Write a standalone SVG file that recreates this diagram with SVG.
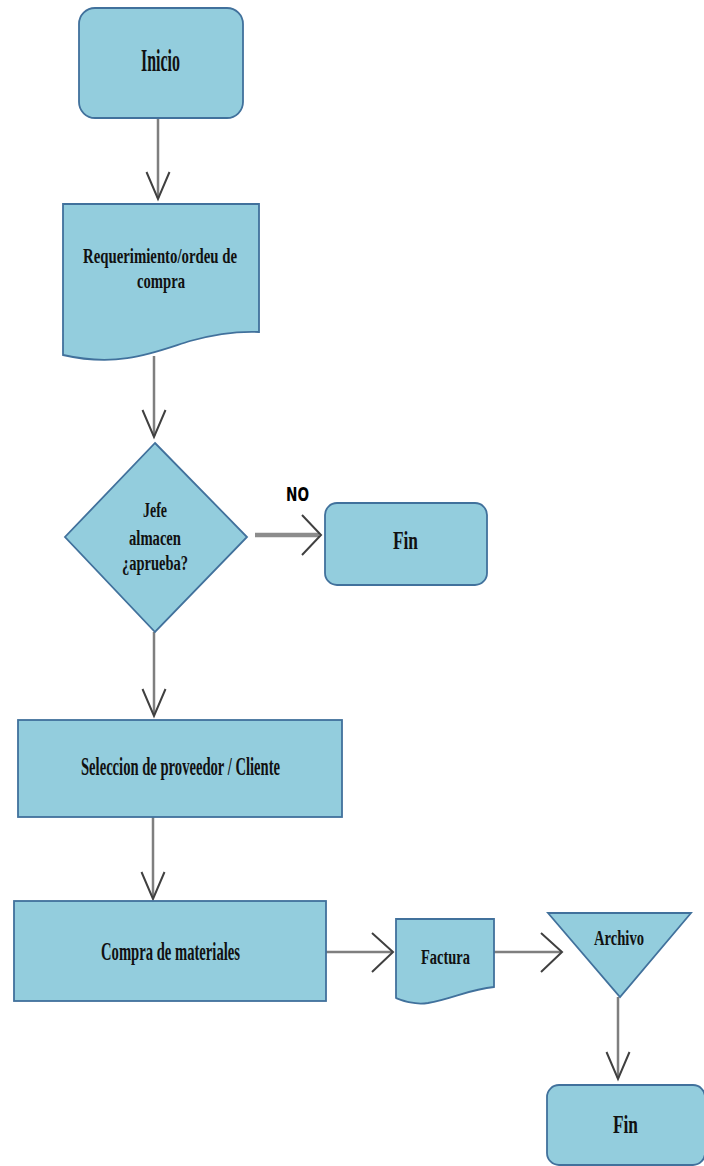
<svg xmlns="http://www.w3.org/2000/svg" width="704" height="1166" viewBox="0 0 704 1166">
<style>
.shape{fill:#93CDDD;stroke:#41719C;stroke-width:1.8}
.line{fill:none;stroke:#7F7F7F;stroke-width:2.5}
.thick{fill:none;stroke:#8C8C8C;stroke-width:4.5}
.head{fill:none;stroke:#404040;stroke-width:2;stroke-linejoin:miter}
.t{font-family:"Liberation Serif","Times New Roman",serif;font-weight:bold;fill:#111}
.no{font-family:"DejaVu Sans","Liberation Sans",sans-serif;font-weight:bold;fill:#000}
</style>
<rect width="704" height="1166" fill="#FFFFFF"/>
<g id="connectors">
  <line class="line" x1="158" y1="118" x2="158" y2="198"/>
  <path class="head" d="M146.5,172 L158,199 L169.5,172"/>
  <line class="line" x1="154" y1="356" x2="154" y2="436"/>
  <path class="head" d="M142.5,410 L154,437 L165.5,410"/>
  <line class="thick" x1="255" y1="535" x2="319" y2="535"/>
  <path class="head" d="M302,515 L321,535 L302,555"/>
  <line class="line" x1="154" y1="632" x2="154" y2="714"/>
  <path class="head" d="M142.5,689 L154,716 L165.5,689"/>
  <line class="line" x1="153" y1="817" x2="153" y2="897"/>
  <path class="head" d="M141.5,872 L153,899 L164.5,872"/>
  <line class="line" x1="326" y1="952" x2="392" y2="952"/>
  <path class="head" d="M372,933 L393,952 L372,972"/>
  <line class="line" x1="494" y1="952" x2="561" y2="952"/>
  <path class="head" d="M541,933 L562,952 L541,972"/>
  <line class="line" x1="618" y1="997" x2="618" y2="1078"/>
  <path class="head" d="M606.5,1052 L618,1079 L629.5,1052"/>
  <text class="no" x="286" y="501" font-size="20" textLength="23" lengthAdjust="spacingAndGlyphs">NO</text>
</g>
<g id="inicio">
  <rect class="shape" x="79" y="8" width="164" height="110" rx="16"/>
  <text class="t" x="141" y="71" font-size="32" textLength="39" lengthAdjust="spacingAndGlyphs">Inicio</text>
</g>
<g id="requerimiento">
  <path class="shape" d="M63,204 H259 V332 C235,331 215,334 190,341 C155,352 120,368 63,355 Z"/>
  <text class="t" x="83" y="263" font-size="22" textLength="154" lengthAdjust="spacingAndGlyphs">Requerimiento/ordeu de</text>
  <text class="t" x="137" y="288" font-size="22" textLength="48" lengthAdjust="spacingAndGlyphs">compra</text>
</g>
<g id="decision">
  <polygon class="shape" points="155,443 247,537 155,632 65,537"/>
  <text class="t" x="143" y="517" font-size="20" textLength="24" lengthAdjust="spacingAndGlyphs">Jefe</text>
  <text class="t" x="129" y="545" font-size="20" textLength="52" lengthAdjust="spacingAndGlyphs">almacen</text>
  <text class="t" x="122" y="570" font-size="20" textLength="66" lengthAdjust="spacingAndGlyphs">¿aprueba?</text>
</g>
<g id="fin1">
  <rect class="shape" x="325" y="503" width="162" height="82" rx="12"/>
  <text class="t" x="393" y="549" font-size="25" textLength="25" lengthAdjust="spacingAndGlyphs">Fin</text>
</g>
<g id="seleccion">
  <rect class="shape" x="18" y="720" width="324" height="97"/>
  <text class="t" x="81" y="775" font-size="25" textLength="199" lengthAdjust="spacingAndGlyphs">Seleccion de proveedor / Cliente</text>
</g>
<g id="compra">
  <rect class="shape" x="14" y="901" width="312" height="100"/>
  <text class="t" x="101" y="960" font-size="25" textLength="139" lengthAdjust="spacingAndGlyphs">Compra de materiales</text>
</g>
<g id="factura">
  <path class="shape" d="M396,919 H494 V987 C470,989 452,999 428,1003 C414,1005 404,1001 396,998 Z"/>
  <text class="t" x="421" y="964" font-size="20" textLength="49" lengthAdjust="spacingAndGlyphs">Factura</text>
</g>
<g id="archivo">
  <polygon class="shape" points="548,913 691,913 620,997"/>
  <text class="t" x="594" y="945" font-size="20" textLength="50" lengthAdjust="spacingAndGlyphs">Archivo</text>
</g>
<g id="fin2">
  <rect class="shape" x="547" y="1085" width="158" height="80" rx="12"/>
  <text class="t" x="613" y="1133" font-size="25" textLength="25" lengthAdjust="spacingAndGlyphs">Fin</text>
</g>
</svg>
